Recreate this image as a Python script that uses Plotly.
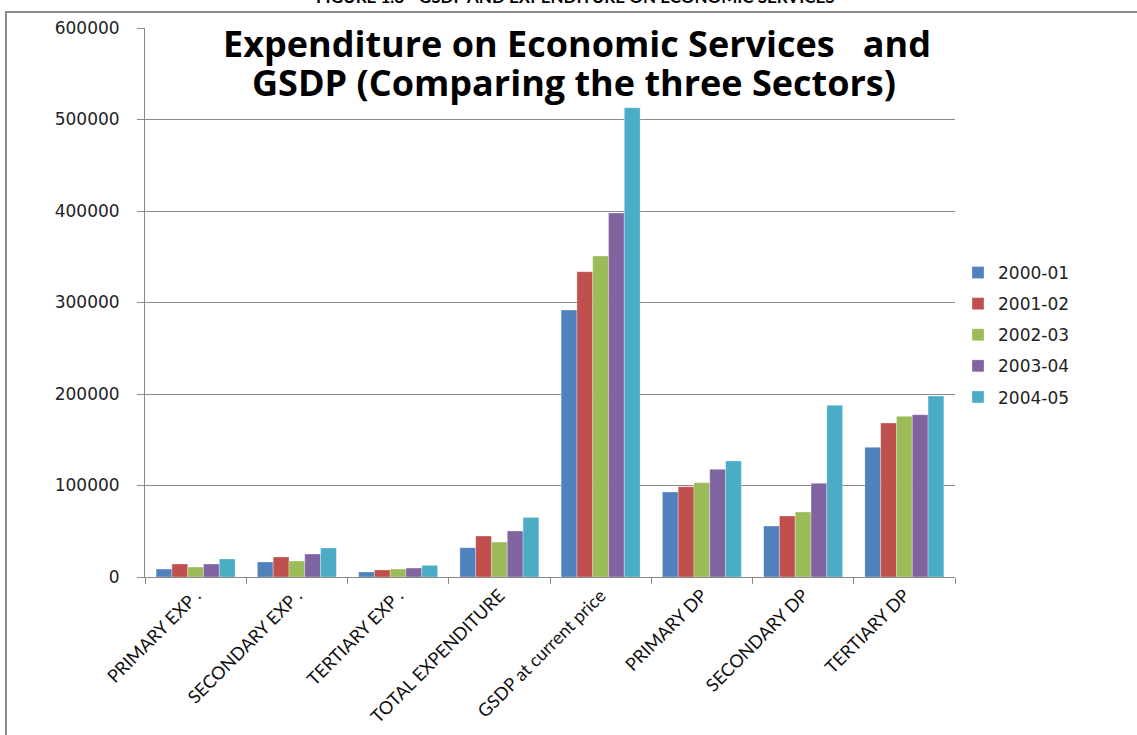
import plotly.graph_objects as go

categories = ["PRIMARY EXP .", "SECONDARY EXP .", "TERTIARY EXP .", "TOTAL EXPENDITURE",
              "GSDP at current price", "PRIMARY DP", "SECONDARY DP", "TERTIARY DP"]
years = ["2000-01", "2001-02", "2002-03", "2003-04", "2004-05"]
v2000_01 = [8700, 16400, 5500, 32000, 291800, 92900, 55700, 141700]
v2001_02 = [14200, 21900, 7700, 44800, 333700, 98700, 66700, 168300]
v2002_03 = [10900, 17500, 8700, 38200, 350800, 103100, 71000, 175600]
v2003_04 = [14200, 25100, 9800, 50300, 397800, 117700, 102400, 177400]
v2004_05 = [19700, 31700, 12700, 65100, 512900, 126800, 187700, 197800]
series = [v2000_01, v2001_02, v2002_03, v2003_04, v2004_05]
colors = ["#4F81BD", "#C0504D", "#9BBB59", "#8064A2", "#4BACC6"]
y_ticks = [0, 100000, 200000, 300000, 400000, 500000, 600000]

W, H = 1137, 735
fig = go.Figure()
for name, vals, c in zip(years, series, colors):
    fig.add_trace(go.Bar(x=categories, y=vals, name=name, legendgroup=name,
                         marker=dict(color=c, line=dict(color="rgba(255,255,255,0.5)", width=0.6))))

fig.update_layout(
    width=W, height=H, autosize=False,
    margin=dict(l=145, r=182, t=28, b=158, autoexpand=False),
    paper_bgcolor="white", plot_bgcolor="white",
    barmode="group", bargap=0.22, bargroupgap=0,
    showlegend=True,
    legend=dict(xref="container", yref="container", x=958 / W, xanchor="left",
                y=(H - 255) / H, yanchor="top",
                font=dict(family="DejaVu Sans", size=17, color="#222"),
                tracegroupgap=6, itemwidth=30, bgcolor="rgba(0,0,0,0)"),
    xaxis=dict(showline=True, linecolor="#8a8a8a", linewidth=1, ticks="outside",
               ticklen=6, tickcolor="#8a8a8a", tickson="boundaries", tickangle=-45,
               automargin=False,
               tickfont=dict(family="Lato", size=18, color="#111"), showgrid=False),
    yaxis=dict(range=[0, 600000], tickvals=y_ticks, ticktext=[str(t) for t in y_ticks],
               showline=True, linecolor="#8a8a8a", linewidth=1, ticks="outside",
               ticklen=7, tickcolor="#8a8a8a", showgrid=True, gridcolor="#8a8a8a",
               gridwidth=1, zeroline=False, ticklabelstandoff=14, automargin=False,
               tickfont=dict(family="DejaVu Sans", size=17, color="#222")),
    font=dict(family="Lato"),
)

PW, PH = W - 145 - 182, H - 28 - 158


def px(xp):
    return (xp - 145) / PW


def py(yp):
    return (H - yp - 158) / PH


fig.add_annotation(text="Expenditure on Economic Services\u00a0\u00a0\u00a0and",
                   xref="paper", yref="paper", x=px(577), y=py(44),
                   showarrow=False, xanchor="center", yanchor="middle",
                   font=dict(family="Open Sans", size=36, color="black", weight="bold"))
fig.add_annotation(text="GSDP (Comparing the three Sectors)",
                   xref="paper", yref="paper", x=px(574), y=py(82),
                   showarrow=False, xanchor="center", yanchor="middle",
                   font=dict(family="Open Sans", size=36, color="black", weight="bold"))
fig.add_annotation(text="FIGURE 1.8 - GSDP AND EXPENDITURE ON ECONOMIC SERVICES",
                   xref="paper", yref="paper", x=px(575), y=py(9),
                   showarrow=False, xanchor="center", yanchor="bottom",
                   font=dict(family="Lato", size=17, color="black", weight="bold"))

fig.add_shape(type="rect", xref="paper", yref="paper",
              x0=px(6), x1=px(W + 10), y0=py(H + 10), y1=py(12),
              line=dict(color="#8a8a8a", width=2), layer="below")

fig.write_html("out.html")
